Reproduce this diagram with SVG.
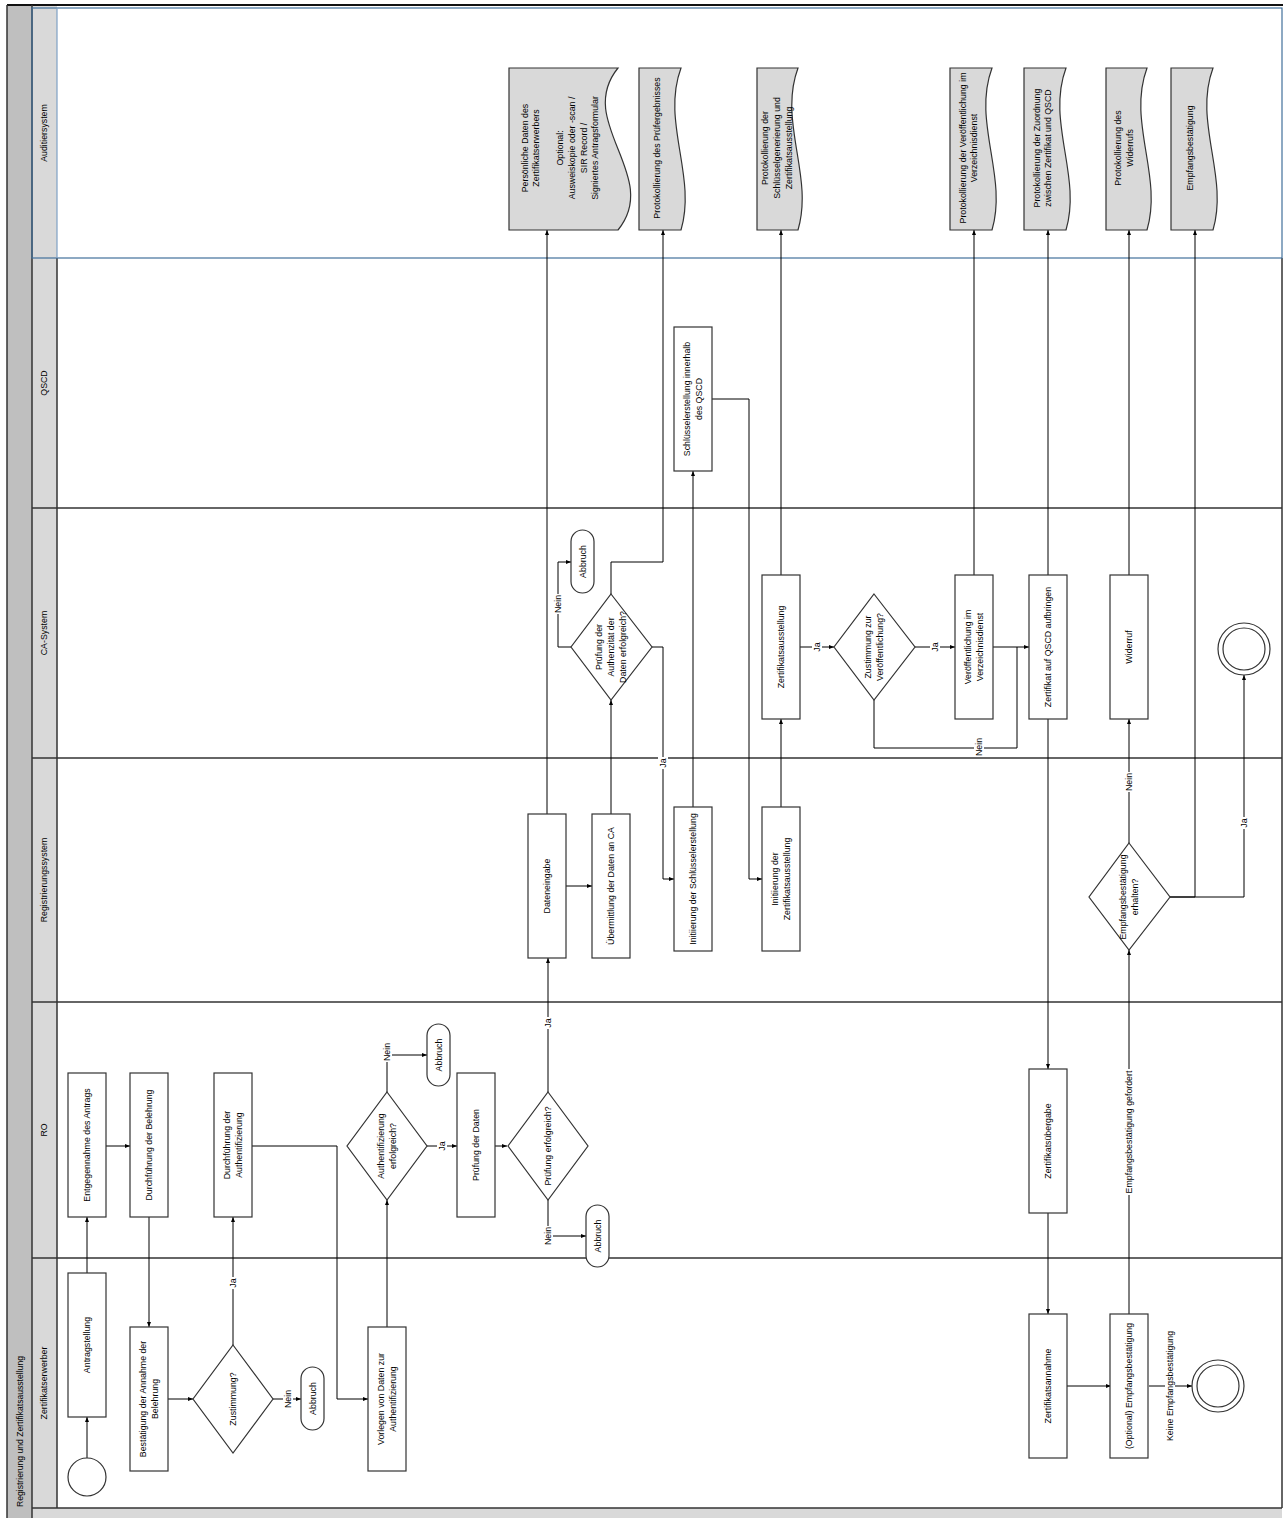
<svg xmlns="http://www.w3.org/2000/svg" width="1284" height="1518" viewBox="0 0 1284 1518">
<defs>
<style>
.t{font-family:"Liberation Sans",Arial,sans-serif;font-size:8.8px;fill:#000;text-anchor:middle}
.ti{font-family:"Liberation Sans",Arial,sans-serif;font-size:8.6px;fill:#000}
.box{fill:#fff;stroke:#333;stroke-width:1.2}
.term{fill:#fff;stroke:#333;stroke-width:1.2}
.doc{fill:#d9d9d9;stroke:#333;stroke-width:1.2}
.ln{stroke:#333;stroke-width:1.5;fill:none}
.c{fill:none;stroke:#000;stroke-width:1}
.ca{fill:none;stroke:#000;stroke-width:1;marker-end:url(#ah)}
.bg{fill:#fff}
</style>
<marker id="ah" viewBox="0 0 10 10" refX="10" refY="5" markerWidth="5" markerHeight="5" orient="auto" markerUnits="userSpaceOnUse"><path d="M0,1 L10,5 L0,9 Z" fill="#000"/></marker>
</defs>

<g id="pool">
<rect width="1284" height="1518" fill="#fff"/>
<rect x="7" y="5" width="25" height="1513" fill="#bfbfbf"/>
<rect x="32" y="5" width="25" height="1513" fill="#d9d9d9"/>
<rect x="32" y="1508" width="1250" height="10" fill="#d9d9d9"/>
<line class="ln" x1="7" y1="5" x2="1283" y2="5" style="stroke:#111;stroke-width:2"/>
<line class="ln" x1="7" y1="5" x2="7" y2="1518"/>
<line class="ln" x1="32" y1="5" x2="32" y2="1518"/>
<line class="ln" x1="57" y1="258" x2="57" y2="1508"/>
<line class="ln" x1="1282" y1="258" x2="1282" y2="1508"/>
<line class="ln" x1="32" y1="508" x2="1282" y2="508"/>
<line class="ln" x1="32" y1="758" x2="1282" y2="758"/>
<line class="ln" x1="32" y1="1002" x2="1282" y2="1002"/>
<line class="ln" x1="32" y1="1258" x2="1282" y2="1258"/>
<line class="ln" x1="32" y1="1508" x2="1282" y2="1508"/>
<rect x="32" y="8" width="1250" height="250" fill="none" stroke="#41719c" stroke-width="1.2"/>
<line x1="57" y1="8" x2="57" y2="258" stroke="#7ea0c4" stroke-width="1.2"/>
<text class="ti" transform="translate(23,1507) rotate(-90)">Registrierung und Zertifikatsausstellung</text>
<text class="t" transform="translate(44,133) rotate(-90)" y="3">Auditiersystem</text>
<text class="t" transform="translate(44,383) rotate(-90)" y="3">QSCD</text>
<text class="t" transform="translate(44,633) rotate(-90)" y="3">CA-System</text>
<text class="t" transform="translate(44,880) rotate(-90)" y="3">Registrierungssystem</text>
<text class="t" transform="translate(44,1130) rotate(-90)" y="3">RO</text>
<text class="t" transform="translate(44,1383) rotate(-90)" y="3">Zertifikatserwerber</text>
</g>

<g id="connectors">
<path class="ca" d="M87,1458 V1417"/>
<path class="ca" d="M87,1273 V1217"/>
<path class="ca" d="M106,1146 H130"/>
<path class="ca" d="M149,1217 V1327"/>
<path class="ca" d="M168,1399 H193"/>
<path class="ca" d="M233,1345 V1217"/>
<path class="ca" d="M273,1399 H301"/>
<path class="ca" d="M252,1146 H337 V1399 H368"/>
<path class="ca" d="M387,1327 V1200"/>
<path class="ca" d="M387,1092 V1055 H427"/>
<path class="ca" d="M427,1146 H457"/>
<path class="ca" d="M495,1146 H507"/>
<path class="ca" d="M548,1199 V1236 H586"/>
<path class="ca" d="M548,1092 V958"/>
<path class="ca" d="M566,886 H592"/>
<path class="ca" d="M547,814 V230"/>
<path class="ca" d="M611,814 V700"/>
<path class="ca" d="M571,647 H558 V562 H571"/>
<path class="ca" d="M611,594 V562 H663 V230"/>
<path class="ca" d="M652,647 H663 V879 H674"/>
<path class="ca" d="M693,807 V471"/>
<path class="ca" d="M712,399 H749 V879 H762"/>
<path class="ca" d="M781,807 V719"/>
<path class="ca" d="M781,575 V230"/>
<path class="ca" d="M799,647 H834"/>
<path class="ca" d="M915,647 H955"/>
<path class="ca" d="M993,647 H1029"/>
<path class="c" d="M874,700 V748 H1017 V647"/>
<path class="ca" d="M974,575 V230"/>
<path class="ca" d="M1048,575 V230"/>
<path class="ca" d="M1048,719 V1069"/>
<path class="ca" d="M1048,1213 V1314"/>
<path class="ca" d="M1067,1386 H1111"/>
<path class="ca" d="M1129,1314 V950"/>
<path class="ca" d="M1149,1386 H1192"/>
<path class="ca" d="M1129,843 V719"/>
<path class="ca" d="M1129,575 V230"/>
<path class="ca" d="M1170,897 H1244 V675"/>
<path class="ca" d="M1170,897 H1195 V230"/>
<!-- labels -->
<rect class="bg" x="228" y="1277" width="10" height="12"/>
<text class="t" transform="translate(233,1283) rotate(-90)" y="3">Ja</text>
<rect class="bg" x="283" y="1389" width="10" height="20"/>
<text class="t" transform="translate(288,1399) rotate(-90)" y="3">Nein</text>
<rect class="bg" x="382" y="1042" width="10" height="20"/>
<text class="t" transform="translate(387,1052) rotate(-90)" y="3">Nein</text>
<rect class="bg" x="437" y="1140" width="10" height="12"/>
<text class="t" transform="translate(442,1146) rotate(-90)" y="3">Ja</text>
<rect class="bg" x="543" y="1226" width="10" height="20"/>
<text class="t" transform="translate(548,1236) rotate(-90)" y="3">Nein</text>
<rect class="bg" x="543" y="1017" width="10" height="12"/>
<text class="t" transform="translate(548,1023) rotate(-90)" y="3">Ja</text>
<rect class="bg" x="553" y="594" width="10" height="20"/>
<text class="t" transform="translate(558,604) rotate(-90)" y="3">Nein</text>
<rect class="bg" x="658" y="757" width="10" height="12"/>
<text class="t" transform="translate(663,763) rotate(-90)" y="3">Ja</text>
<rect class="bg" x="812" y="641" width="10" height="12"/>
<text class="t" transform="translate(817,647) rotate(-90)" y="3">Ja</text>
<rect class="bg" x="930" y="641" width="10" height="12"/>
<text class="t" transform="translate(935,647) rotate(-90)" y="3">Ja</text>
<rect class="bg" x="974" y="737" width="10" height="20"/>
<text class="t" transform="translate(979,747) rotate(-90)" y="3">Nein</text>
<rect class="bg" x="1124" y="1069" width="10" height="126"/>
<text class="t" transform="translate(1129,1132) rotate(-90)" y="3">Empfangsbestätigung gefordert</text>
<rect class="bg" x="1165" y="1330" width="10" height="112"/>
<text class="t" transform="translate(1170,1386) rotate(-90)" y="3">Keine Empfangsbestätigung</text>
<rect class="bg" x="1124" y="772" width="10" height="20"/>
<text class="t" transform="translate(1129,782) rotate(-90)" y="3">Nein</text>
<rect class="bg" x="1239" y="817" width="10" height="12"/>
<text class="t" transform="translate(1244,823) rotate(-90)" y="3">Ja</text>
</g>

<g id="start"><circle cx="87" cy="1477" r="19" class="box"/></g>
<g id="antragstellung"><rect class="box" x="68" y="1273" width="38" height="144"/><text class="t" transform="translate(87,1345) rotate(-90)" y="3">Antragstellung</text></g>
<g id="entgegennahme"><rect class="box" x="68" y="1073" width="38" height="144"/><text class="t" transform="translate(87,1145) rotate(-90)" y="3">Entgegennahme des Antrags</text></g>
<g id="belehrung"><rect class="box" x="130" y="1073" width="38" height="144"/><text class="t" transform="translate(149,1145) rotate(-90)" y="3">Durchführung der Belehrung</text></g>
<g id="bestaetigung"><rect class="box" x="130" y="1327" width="38" height="144"/><text class="t" transform="translate(149,1399) rotate(-90)"><tspan x="0" y="-2.9">Bestätigung der Annahme der</tspan><tspan x="0" y="8.9">Belehrung</tspan></text></g>
<g id="zustimmung"><path class="box" d="M233,1345 L273,1399 L233,1453 L193,1399 Z"/><text class="t" transform="translate(233,1399) rotate(-90)" y="3">Zustimmung?</text></g>
<g id="abbruch1"><rect class="term" x="301" y="1367" width="23" height="63" rx="11.5"/><text class="t" transform="translate(312.5,1398.5) rotate(-90)" y="3">Abbruch</text></g>
<g id="authentifizierung"><rect class="box" x="214" y="1073" width="38" height="144"/><text class="t" transform="translate(233,1145) rotate(-90)"><tspan x="0" y="-2.9">Durchführung der</tspan><tspan x="0" y="8.9">Authentifizierung</tspan></text></g>
<g id="vorlegen"><rect class="box" x="368" y="1327" width="38" height="144"/><text class="t" transform="translate(387,1399) rotate(-90)"><tspan x="0" y="-2.9">Vorlegen von Daten zur</tspan><tspan x="0" y="8.9">Authentifizierung</tspan></text></g>
<g id="auth-erfolgreich"><path class="box" d="M387,1092 L427,1146 L387,1200 L347,1146 Z"/><text class="t" transform="translate(387,1146) rotate(-90)"><tspan x="0" y="-2.9">Authentifizierung</tspan><tspan x="0" y="8.9">erfolgreich?</tspan></text></g>
<g id="abbruch2"><rect class="term" x="427" y="1024" width="23" height="62" rx="11.5"/><text class="t" transform="translate(438.5,1055) rotate(-90)" y="3">Abbruch</text></g>
<g id="pruefung-daten"><rect class="box" x="457" y="1073" width="38" height="144"/><text class="t" transform="translate(476,1145) rotate(-90)" y="3">Prüfung der Daten</text></g>
<g id="pruefung-erfolgreich"><path class="box" d="M548,1092 L588,1146 L548,1200 L508,1146 Z"/><text class="t" transform="translate(548,1146) rotate(-90)" y="3">Prüfung erfolgreich?</text></g>
<g id="abbruch3"><rect class="term" x="586" y="1205" width="23" height="62" rx="11.5"/><text class="t" transform="translate(597.5,1236) rotate(-90)" y="3">Abbruch</text></g>
<g id="dateneingabe"><rect class="box" x="528" y="814" width="38" height="144"/><text class="t" transform="translate(547,886) rotate(-90)" y="3">Dateneingabe</text></g>
<g id="uebermittlung"><rect class="box" x="592" y="814" width="38" height="144"/><text class="t" transform="translate(611,886) rotate(-90)" y="3">Übermittlung der Daten an CA</text></g>
<g id="pruefung-authentizitaet"><path class="box" d="M611,594 L652,647 L611,700 L571,647 Z"/><text class="t" transform="translate(611,647) rotate(-90)"><tspan x="0" y="-8.8">Prüfung der</tspan><tspan x="0" y="3">Authenzität der</tspan><tspan x="0" y="14.8">Daten erfolgreich?</tspan></text></g>
<g id="abbruch4"><rect class="term" x="571" y="530" width="23" height="63" rx="11.5"/><text class="t" transform="translate(582.5,561.5) rotate(-90)" y="3">Abbruch</text></g>
<g id="init-schluessel"><rect class="box" x="674" y="807" width="38" height="144"/><text class="t" transform="translate(693,879) rotate(-90)" y="3">Initiierung der Schlüsselerstellung</text></g>
<g id="schluessel-qscd"><rect class="box" x="674" y="327" width="38" height="144"/><text class="t" transform="translate(693,399) rotate(-90)"><tspan x="0" y="-2.9">Schlüsselerstellung innerhalb</tspan><tspan x="0" y="8.9">des QSCD</tspan></text></g>
<g id="init-zertifikat"><rect class="box" x="762" y="807" width="38" height="144"/><text class="t" transform="translate(781,879) rotate(-90)"><tspan x="0" y="-2.9">Initiierung der</tspan><tspan x="0" y="8.9">Zertifikatsausstellung</tspan></text></g>
<g id="zertifikatsausstellung"><rect class="box" x="762" y="575" width="38" height="144"/><text class="t" transform="translate(781,647) rotate(-90)" y="3">Zertifikatsausstellung</text></g>
<g id="zustimmung-veroeff"><path class="box" d="M874,594 L915,647 L874,700 L834,647 Z"/><text class="t" transform="translate(874,647) rotate(-90)"><tspan x="0" y="-2.9">Zustimmung zur</tspan><tspan x="0" y="8.9">Veröffentlichung?</tspan></text></g>
<g id="veroeffentlichung"><rect class="box" x="955" y="575" width="38" height="144"/><text class="t" transform="translate(974,647) rotate(-90)"><tspan x="0" y="-2.9">Veröffentlichung im</tspan><tspan x="0" y="8.9">Verzeichnisdienst</tspan></text></g>
<g id="qscd-aufbringen"><rect class="box" x="1029" y="575" width="38" height="144"/><text class="t" transform="translate(1048,647) rotate(-90)" y="3">Zertifikat auf QSCD aufbringen</text></g>
<g id="widerruf"><rect class="box" x="1110" y="575" width="38" height="144"/><text class="t" transform="translate(1129,647) rotate(-90)" y="3">Widerruf</text></g>
<g id="end-ca"><circle class="box" cx="1244" cy="649" r="26"/><circle class="box" cx="1244" cy="649" r="21"/></g>
<g id="empfang-erhalten"><path class="box" d="M1129,843 L1170,897 L1129,950 L1089,897 Z"/><text class="t" transform="translate(1129,897) rotate(-90)"><tspan x="0" y="-2.9">Empfangsbestätigung</tspan><tspan x="0" y="8.9">erhalten?</tspan></text></g>
<g id="uebergabe"><rect class="box" x="1029" y="1069" width="38" height="144"/><text class="t" transform="translate(1048,1141) rotate(-90)" y="3">Zertifikatsübergabe</text></g>
<g id="annahme"><rect class="box" x="1029" y="1314" width="38" height="144"/><text class="t" transform="translate(1048,1386) rotate(-90)" y="3">Zertifikatsannahme</text></g>
<g id="optional-empfang"><rect class="box" x="1110" y="1314" width="38" height="144"/><text class="t" transform="translate(1129,1386) rotate(-90)" y="3">(Optional) Empfangsbestätigung</text></g>
<g id="end-ze"><circle class="box" cx="1218" cy="1386" r="26"/><circle class="box" cx="1218" cy="1386" r="21"/></g>

<g id="doc1"><path class="doc" d="M509,68 H618 C574,122 662,176 618,230 H509 Z"/><text class="t" transform="translate(560,148) rotate(-90)"><tspan x="0" y="-32.4">Persönliche Daten des</tspan><tspan x="0" y="-20.6">Zertifikatserwerbers</tspan><tspan x="0" y="3">Optional:</tspan><tspan x="0" y="14.8">Ausweiskopie oder -scan /</tspan><tspan x="0" y="26.6">SIR Record /</tspan><tspan x="0" y="38.4">Signiertes Antragsformular</tspan></text></g>
<g id="doc2"><path class="doc" d="M639,68 H681 C661,122 697,176 681,230 H639 Z"/><text class="t" transform="translate(657,148) rotate(-90)" y="3">Protokollierung des Prüfergebnisses</text></g>
<g id="doc3"><path class="doc" d="M757,68 H798 C778,122 814,176 798,230 H757 Z"/><text class="t" transform="translate(777,148) rotate(-90)"><tspan x="0" y="-8.8">Protokollierung der</tspan><tspan x="0" y="3">Schlüsselgenerierung und</tspan><tspan x="0" y="14.8">Zertifikatsausstellung</tspan></text></g>
<g id="doc4"><path class="doc" d="M950,68 H992 C972,122 1008,176 992,230 H950 Z"/><text class="t" transform="translate(968.5,148) rotate(-90)"><tspan x="0" y="-2.9">Protokollierung der Veröffentlichung im</tspan><tspan x="0" y="8.9">Verzeichnisdienst</tspan></text></g>
<g id="doc5"><path class="doc" d="M1024,68 H1066 C1046,122 1082,176 1066,230 H1024 Z"/><text class="t" transform="translate(1042.5,148) rotate(-90)"><tspan x="0" y="-2.9">Protokollierung der Zuordnung</tspan><tspan x="0" y="8.9">zwischen Zertifikat und QSCD</tspan></text></g>
<g id="doc6"><path class="doc" d="M1106,68 H1147 C1127,122 1163,176 1147,230 H1106 Z"/><text class="t" transform="translate(1124,148) rotate(-90)"><tspan x="0" y="-2.9">Protokollierung des</tspan><tspan x="0" y="8.9">Widerrufs</tspan></text></g>
<g id="doc7"><path class="doc" d="M1171,68 H1213 C1193,122 1229,176 1213,230 H1171 Z"/><text class="t" transform="translate(1190,148) rotate(-90)" y="3">Empfangsbestätigung</text></g>
</svg>
